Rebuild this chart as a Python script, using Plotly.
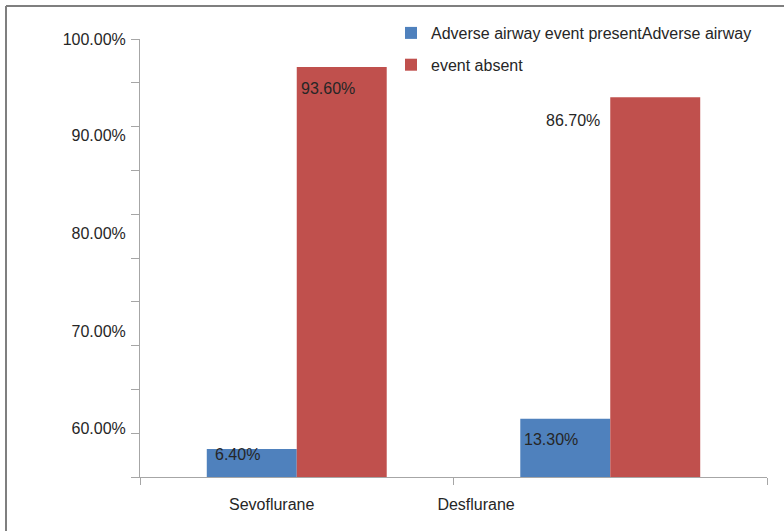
import plotly.graph_objects as go

# ---- data ----
categories = ["Sevoflurane", "Desflurane"]
series_names = ["Adverse airway event presentAdverse airway", "event absent"]
event_present = [6.4, 13.3]
event_absent = [93.6, 86.7]
y_tick_labels = ["100.00%", "90.00%", "80.00%", "70.00%", "60.00%"]

# ---- layout constants ----
W, H = 784, 531
ML, MR, MT, MB = 140, 17, 39, 54
BLUE, RED = "#4F81BD", "#C0504D"
AXIS = "#A6A6A6"
TEXT = "#262626"
FONT = "Arial, Liberation Sans, sans-serif"
FS = 16
BARGAP = 0.426
bar_w = (1 - BARGAP) / 2  # width of one bar in category units

# where the y labels sit along the 0-100 scale
y_label_pos = [100, 78.1, 55.7, 33.3, 11.2]
# where the category labels sit along the x scale
x_label_pos = [-0.08, 0.572]

fig = go.Figure()
fig.add_trace(go.Bar(x=list(range(len(categories))), y=event_present,
                     name=series_names[0], marker_color=BLUE,
                     marker_line_width=0, legendgroup="a", hoverinfo="skip"))
fig.add_trace(go.Bar(x=list(range(len(categories))), y=event_absent,
                     name=series_names[1], marker_color=RED,
                     marker_line_width=0, legendgroup="b", hoverinfo="skip"))
# empty trace that carries the overlaid label axes
fig.add_trace(go.Scatter(x=[], y=[], xaxis="x2", yaxis="y2",
                         showlegend=False, hoverinfo="skip"))

lab_font = dict(size=FS, color=TEXT, family=FONT)
annotations = []
for i in range(len(categories)):
    # "present" labels: left-aligned inside the top of the blue bar
    v = event_present[i]
    annotations.append(dict(
        x=i - bar_w, y=v, xref="x", yref="y", text=f"{v:.2f}%",
        xanchor="left", yanchor="middle", xshift=[6, 2][i],
        yshift=[-6, -21][i], showarrow=False, font=lab_font))
    # "absent" labels: inside the red bar for the first group,
    # just left of it for the second
    v = event_absent[i]
    if i == 0:
        annotations.append(dict(
            x=i, y=v, xref="x", yref="y", text=f"{v:.2f}%",
            xanchor="left", yanchor="middle", xshift=2, yshift=-21,
            showarrow=False, font=lab_font))
    else:
        annotations.append(dict(
            x=i, y=v, xref="x", yref="y", text=f"{v:.2f}%",
            xanchor="right", yanchor="middle", xshift=-8, yshift=-23,
            showarrow=False, font=lab_font))

pw, ph = W - ML - MR, H - MT - MB
def px_x(p):
    return (p - ML) / pw
def px_y(p):
    return (H - MB - p) / ph

fig.update_layout(
    width=W, height=H, autosize=False,
    margin=dict(l=ML, r=MR, t=MT, b=MB, pad=0),
    paper_bgcolor="white", plot_bgcolor="white",
    font=dict(family=FONT, size=FS, color=TEXT),
    barmode="group", bargap=BARGAP, bargroupgap=0,
    showlegend=True,
    legend=dict(x=px_x(391), y=px_y(16), xanchor="left", yanchor="top",
                bgcolor="rgba(0,0,0,0)", font=dict(size=FS, color=TEXT),
                tracegroupgap=8, itemwidth=30, traceorder="grouped"),
    xaxis=dict(range=[-0.5, 1.5], tickvals=[-0.5, 0.5, 1.5],
               showticklabels=False, ticks="outside", ticklen=7,
               tickcolor=AXIS, tickwidth=1, showline=True, linecolor=AXIS,
               linewidth=1, showgrid=False, zeroline=False, fixedrange=True),
    yaxis=dict(range=[0, 100], tickvals=list(range(0, 101, 10)),
               showticklabels=False, ticks="outside", ticklen=8,
               tickcolor=AXIS, tickwidth=1, showline=True, linecolor=AXIS,
               linewidth=1, showgrid=False, zeroline=False, fixedrange=True),
    xaxis2=dict(overlaying="x", anchor="y", side="bottom", range=[-0.5, 1.5],
                tickvals=x_label_pos, ticktext=categories, ticks="outside",
                ticklen=13, tickcolor="rgba(0,0,0,0)", showline=False,
                showgrid=False, zeroline=False, tickfont=lab_font),
    yaxis2=dict(overlaying="y", anchor="x", side="left", range=[0, 100],
                tickvals=y_label_pos, ticktext=y_tick_labels, ticks="outside",
                ticklen=10, tickcolor="rgba(0,0,0,0)", showline=False,
                showgrid=False, zeroline=False, tickfont=lab_font),
    annotations=annotations,
    shapes=[
        # frame around the figure (top and left edges visible)
        dict(type="line", xref="paper", yref="paper",
             x0=px_x(6), x1=px_x(790), y0=px_y(6), y1=px_y(6),
             line=dict(color="#7F7F7F", width=2)),
        dict(type="line", xref="paper", yref="paper",
             x0=px_x(6), x1=px_x(6), y0=px_y(6), y1=px_y(540),
             line=dict(color="#7F7F7F", width=2)),
    ],
)

fig.write_html("out.html")
